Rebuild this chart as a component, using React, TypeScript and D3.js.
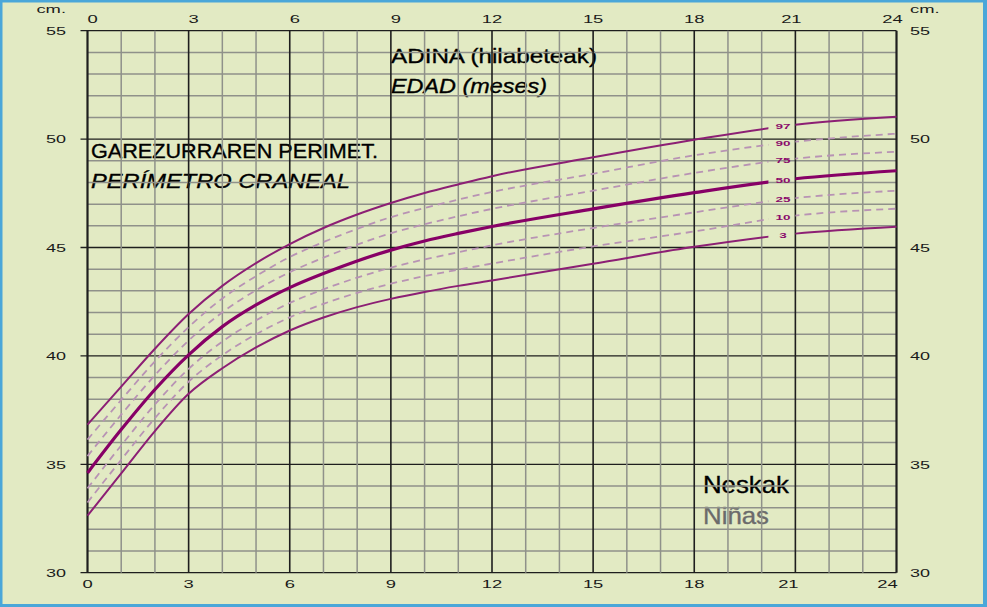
import React from 'react';
import * as d3 from 'd3';

const W = 987;
const H = 607;

// age in months
const AGES = [0, 1, 2, 3, 4, 5, 6, 7, 8, 9, 10, 11, 12, 15, 18, 21, 24];

// head circumference percentiles (cm), girls 0-24 months
const P97 = [36.83, 38.58, 40.33, 41.93, 43.23, 44.28, 45.16, 45.9, 46.52, 47.05, 47.51, 47.91, 48.29, 49.16, 49.97, 50.66, 51.03];
const P90 = [36.14, 37.97, 39.75, 41.33, 42.65, 43.68, 44.56, 45.25, 45.86, 46.4, 46.82, 47.21, 47.56, 48.4, 49.25, 49.88, 50.25];
const P75 = [35.38, 37.29, 39.11, 40.71, 42.01, 43.03, 43.86, 44.53, 45.13, 45.66, 46.07, 46.44, 46.78, 47.62, 48.44, 49.1, 49.42];
const P50 = [34.6, 36.6, 38.45, 40.05, 41.35, 42.35, 43.15, 43.8, 44.38, 44.88, 45.3, 45.65, 45.97, 46.78, 47.53, 48.17, 48.54];
const P25 = [33.89, 35.87, 37.76, 39.4, 40.66, 41.64, 42.44, 43.07, 43.61, 44.07, 44.45, 44.78, 45.1, 45.9, 46.62, 47.28, 47.62];
const P10 = [33.24, 35.21, 37.13, 38.81, 40.03, 41.0, 41.78, 42.4, 42.91, 43.33, 43.68, 43.98, 44.26, 45.05, 45.74, 46.47, 46.79];
const P3 = [32.63, 34.58, 36.53, 38.25, 39.43, 40.39, 41.17, 41.77, 42.25, 42.63, 42.95, 43.23, 43.48, 44.25, 45.03, 45.64, 45.96];

const SERIES = [
  { name: '97', values: P97, kind: 'outer' },
  { name: '90', values: P90, kind: 'dash' },
  { name: '75', values: P75, kind: 'dash' },
  { name: '50', values: P50, kind: 'median' },
  { name: '25', values: P25, kind: 'dash' },
  { name: '10', values: P10, kind: 'dash' },
  { name: '3', values: P3, kind: 'outer' },
];

const MONTH_TICKS = [0, 3, 6, 9, 12, 15, 18, 21, 24];
const CM_TICKS = [30, 35, 40, 45, 50, 55];

const C = {
  frame: '#4aa7d9',
  bg: '#e2eac3',
  minor: '#8f918a',
  major: '#1e1e1e',
  text: '#1a1a1a',
  outer: '#8c1f74',
  median: '#870066',
  dash: '#b893b4',
  label: '#8b0a6b',
  gray: '#6b6b6b',
};

const FONT = '"Liberation Sans", Arial, Helvetica, sans-serif';

// axis text in the reference uses a very wide face; stretch a normal one
function WideText({ x, y, text, size, anchor = 'middle', sx = 1.75, weight = 400, fill = C.text }: any) {
  return (
    <text
      transform={`translate(${x},${y}) scale(${sx},1)`}
      textAnchor={anchor}
      fontSize={size}
      fontWeight={weight}
      fontFamily={FONT}
      fill={fill}
    >
      {text}
    </text>
  );
}

function Title({ x, y, text, len, size = 21, italic = false, fill = '#000' }: any) {
  return (
    <text
      x={x}
      y={y}
      fontSize={size}
      fontStyle={italic ? 'italic' : 'normal'}
      fontFamily={FONT}
      fill={fill}
      stroke={fill}
      strokeWidth={0.35}
      textLength={len}
      lengthAdjust="spacingAndGlyphs"
    >
      {text}
    </text>
  );
}

export default function App() {
  const x = d3.scaleLinear().domain([0, 24]).range([87.5, 896.5]);
  const y = d3.scaleLinear().domain([30, 55]).range([572.7, 30.7]);

  const line = (vals: number[]) =>
    d3.line<number>()
      .x((_, i) => x(AGES[i]))
      .y(d => y(d))
      .curve(d3.curveMonotoneX)(vals) || '';

  const months = d3.range(0, 25);
  const cms = d3.range(30, 56);
  const gapStart = 20.2;
  const gapEnd = 21;
  const labelX = (x(gapStart) + x(gapEnd)) / 2 + 1;

  const topDx = (v: number) => (v < 10 ? 5 : v >= 21 ? -4 : 0);
  const botDx = (v: number) => (v === 21 ? -7 : v === 24 ? -9 : 0);

  return (
    <svg width={W} height={H} style={{ position: 'absolute', left: 0, top: 0 }}>
      <defs>
        <clipPath id="gap">
          <rect x={x(0) - 2} y={0} width={x(gapStart) - x(0) + 2} height={H} />
          <rect x={x(gapEnd)} y={0} width={x(24) - x(gapEnd) + 2} height={H} />
        </clipPath>
      </defs>

      {/* frame */}
      <rect x={0} y={0} width={W} height={H} fill={C.frame} />
      <rect x={2.5} y={2.5} width={W - 6.5} height={H - 5.5} fill={C.bg} />

      {/* titles sit under the grid */}
      <Title x={91} y={157.5} text="GAREZURRAREN PERIMET." len={287} />
      <Title x={91} y={188.3} text="PERÍMETRO CRANEAL" len={259} italic />
      <Title x={391} y={62.7} text="ADINA (hilabeteak)" len={206} />
      <Title x={391} y={93.3} text="EDAD (meses)" len={156} italic />
      <Title x={703} y={493.3} text="Neskak" len={86} size={24} />
      <Title x={703} y={524} text="Niñas" len={66} size={24} fill={C.gray} />

      {/* grid */}
      <g>
        {cms.map(v => {
          const major = v % 5 === 0;
          return (
            <line
              key={'h' + v}
              x1={major ? x(0) - 7 : x(0)}
              x2={x(24)}
              y1={y(v)}
              y2={y(v)}
              stroke={major ? C.major : C.minor}
              strokeWidth={major ? 1.3 : 1.5}
            />
          );
        })}
        {months.map(m => {
          const major = m % 3 === 0;
          const edge = m === 0 || m === 24;
          return (
            <line
              key={'v' + m}
              x1={x(m)}
              x2={x(m)}
              y1={y(55)}
              y2={y(30)}
              stroke={major ? C.major : C.minor}
              strokeWidth={edge ? 2.2 : major ? 1.6 : 1.5}
            />
          );
        })}
      </g>

      {/* percentile curves */}
      <g clipPath="url(#gap)" fill="none" strokeLinecap="butt">
        {SERIES.map(s => (
          <path
            key={s.name}
            d={line(s.values)}
            stroke={s.kind === 'dash' ? C.dash : s.kind === 'median' ? C.median : C.outer}
            strokeWidth={s.kind === 'median' ? 3.2 : s.kind === 'dash' ? 1.8 : 2}
            strokeDasharray={s.kind === 'dash' ? '7 5' : undefined}
          />
        ))}
      </g>

      {/* percentile labels in the gap */}
      {SERIES.map(s => (
        <WideText
          key={'l' + s.name}
          x={labelX}
          y={y(s.values[AGES.indexOf(21)]) + 4}
          text={s.name}
          size={7.5}
          weight={700}
          sx={1.8}
          fill={C.label}
        />
      ))}

      {/* month axis, top and bottom */}
      {MONTH_TICKS.map(v => (
        <WideText key={'t' + v} x={x(v) + topDx(v)} y={23.3} text={String(v)} size={11.5} sx={1.6} />
      ))}
      {MONTH_TICKS.map(v => (
        <WideText key={'b' + v} x={x(v) + botDx(v)} y={588.3} text={String(v)} size={11.5} sx={1.6} />
      ))}

      {/* cm axis, left and right */}
      {CM_TICKS.map(v => (
        <WideText key={'yl' + v} x={66} y={y(v) + 4.3} text={String(v)} size={10} anchor="end" sx={1.8} />
      ))}
      {CM_TICKS.map(v => (
        <WideText key={'yr' + v} x={910} y={y(v) + 4.3} text={String(v)} size={10} anchor="start" sx={1.8} />
      ))}
      <WideText x={66} y={13.3} text="cm." size={10.5} anchor="end" sx={1.75} />
      <WideText x={910} y={13.3} text="cm." size={10.5} anchor="start" sx={1.75} />
    </svg>
  );
}
